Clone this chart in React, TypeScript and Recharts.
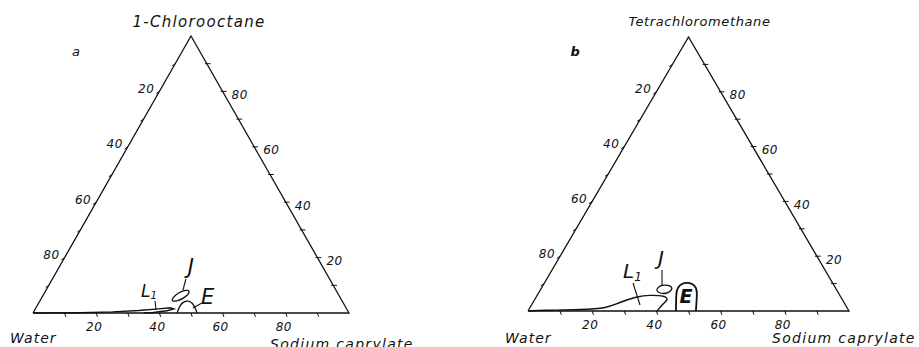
import React from "react";
import { ScatterChart, Scatter, XAxis, YAxis, ReferenceLine } from "recharts";

type Pt = [number, number]; // [sodium caprylate %, oil %]

const INK = "#111";
const FONT = "'DejaVu Sans', sans-serif";
const H = Math.sqrt(3) / 2;

const tickSteps = [10, 20, 30, 40, 50, 60, 70, 80, 90];
const tickLabels = [20, 40, 60, 80];

const namesA = ["Water", "Sodium caprylate", "1-Chlorooctane"];
const namesB = ["Water", "Sodium caprylate", "Tetrachloromethane"];

// (a) 1-chlorooctane phase boundaries
const l1A: Pt[] = [[0, 0], [15, 0.1], [25, 0.4], [33, 0.9], [39, 1.5], [42.5, 1.9], [43.8, 1.5], [42, 0.8], [38, 0.2], [35, 0]];
const jA: Pt[] = [[41.8, 4.3], [43.5, 4.15], [45.5, 5.8], [45.9, 7.6], [44.9, 8.3], [43.4, 8.1], [41.7, 6.5], [41.5, 5.05]];
const eA: Pt[] = [[45.6, 0], [45.25, 2.5], [45.8, 4.0], [46.9, 4.3], [48.5, 3.6], [50.4, 1.8], [51.9, 0]];

// (b) tetrachloromethane phase boundaries
const l1B: Pt[] = [[0, 0], [5.8, 0.25], [15.9, 0.55], [23.3, 1.3], [27.1, 3.1], [31.4, 5.1], [35.1, 5.7], [39.4, 5.4], [41.2, 4.2], [40.8, 2.55], [40.2, 0]];
const jB: Pt[] = [[35.95, 7.85], [37.1, 6.75], [39.3, 6.2], [40.5, 6.75], [41.1, 8.2], [39.55, 9.3], [37.9, 9.56], [36.45, 9.3]];
const eB: Pt[] = [[46.1, 0], [43.3, 5.8], [42.5, 8.4], [43.05, 9.85], [44.35, 10.3], [46.2, 9.85], [48.1, 8.4], [49.7, 5.8], [52.3, 0]];

const toXY = ([c, o]: Pt) => ({ x: c + o / 2, y: o * H });
const Empty = () => <g />;

const TextShape = (p: any) => {
  const d = p.payload;
  if (p.cx == null) return <g />;
  return (
    <g>
      {d.lead && (
        <line x1={p.cx + d.lead[0]} y1={p.cy + d.lead[1]} x2={p.cx + d.lead[2]} y2={p.cy + d.lead[3]}
          stroke={INK} strokeWidth={1.1} />
      )}
      <text x={p.cx + d.dx} y={p.cy + d.dy} textAnchor={d.anchor} dominantBaseline="middle"
        fontSize={d.size} fontFamily={FONT} fontStyle="italic" fontWeight={d.bold ? 700 : 400}
        letterSpacing={d.ls || 0} fill={INK}>
        {d.text}
        {d.sub && <tspan fontSize={d.size * 0.6} dy={4}>{d.sub}</tspan>}
      </text>
    </g>
  );
};

function Ternary({ left, w, h, margin, names, letter, phases, marks, off }: any) {
  const outline = ([[0, 0], [100, 0], [0, 100], [0, 0]] as Pt[]).map(toXY);
  const rows = [
    ...tickLabels.map((v) => ({ ...toXY([v, 0]), text: String(v), dx: -2, dy: 14, anchor: "middle", size: 12, ls: 0.5 })),
    ...tickLabels.map((v) => ({ ...toXY([0, 100 - v]), text: String(v), dx: -5, dy: -2, anchor: "end", size: 12, ls: 0.5 })),
    ...tickLabels.map((v) => ({ ...toXY([100 - v, v]), text: String(v), dx: 9, dy: 4, anchor: "start", size: 12, ls: 0.5 })),
    { ...toXY([0, 0]), text: names[0], ...off.left },
    { ...toXY([100, 0]), text: names[1], ...off.right },
    { ...toXY([0, 100]), text: names[2], ...off.top },
    { ...toXY([0, 100]), text: letter, ...off.letter },
    ...marks.map((m: any) => ({ ...toXY(m.at), ...m })),
  ];
  const seg = (a: Pt, dx: number, dy: number, ex = 0, ey = 0) => {
    const p = toXY(a);
    return [{ x: p.x + ex, y: p.y + ey }, { x: p.x + dx, y: p.y + dy }];
  };
  return (
    <div style={{ position: "absolute", left, top: 0 }}>
      <ScatterChart width={w} height={h} margin={margin}>
        <XAxis type="number" dataKey="x" domain={[0, 100]} hide />
        <YAxis type="number" dataKey="y" domain={[0, 100 * H]} hide />
        {tickSteps.map((t) => (
          <ReferenceLine key={"b" + t} segment={seg([t, 0], 0.4, -1.2)} stroke={INK} strokeWidth={1} ifOverflow="visible" />
        ))}
        {tickSteps.map((t) => (
          <ReferenceLine key={"l" + t} segment={seg([0, t], -1.0, -0.7)} stroke={INK} strokeWidth={1} ifOverflow="visible" />
        ))}
        {tickSteps.map((t) => (
          <ReferenceLine key={"r" + t} segment={seg([100 - t, t], 1.2, 0, -0.6, 0)} stroke={INK} strokeWidth={1} ifOverflow="visible" />
        ))}
        <Scatter data={outline} line={{ stroke: INK, strokeWidth: 1.3 }} lineType="joint" shape={Empty} isAnimationActive={false} />
        {phases.map((ph: any, i: number) => (
          <Scatter key={i} data={ph.pts.map(toXY)} line={{ stroke: INK, strokeWidth: ph.sw || 1.3, fill: "none" }}
            lineType="joint" lineJointType={ph.curve} shape={Empty} isAnimationActive={false} />
        ))}
        <Scatter data={rows} shape={TextShape} isAnimationActive={false} />
      </ScatterChart>
    </div>
  );
}

export default function App() {
  return (
    <div style={{ position: "absolute", left: 0, top: 0, width: 919, height: 347, background: "#fff", overflow: "hidden" }}>
      <Ternary
        left={0} w={460} h={347} margin={{ top: 36, bottom: 34, left: 33, right: 111 }}
        names={namesA} letter="a"
        phases={[
          { pts: l1A, curve: "linear", sw: 1.4 },
          { pts: jA, curve: "basisClosed" },
          { pts: eA, curve: "natural" },
        ]}
        marks={[
          { at: [38.4, 1.08], text: "L", sub: "1", lead: [0, 0, -1, -9], dx: 1, dy: -18, anchor: "end", size: 17 },
          { at: [43.3, 8.3], text: "J", lead: [0, 0, 3, -11], dx: 8, dy: -22, anchor: "middle", size: 21 },
          { at: [49.7, 1.8], text: "E", lead: [0, 0, 9, -5], dx: 8, dy: -10, anchor: "start", size: 21 },
        ]}
        off={{
          left: { dx: -23, dy: 26, anchor: "start", size: 14, ls: 1 },
          right: { dx: -79, dy: 32, anchor: "start", size: 14, ls: 1.3 },
          top: { dx: 8, dy: -14, anchor: "middle", size: 15, ls: 1.3 },
          letter: { dx: -119, dy: 16, anchor: "start", size: 13 },
        }}
      />
      <Ternary
        left={460} w={459} h={347} margin={{ top: 37, bottom: 36, left: 68, right: 70 }}
        names={namesB} letter="b"
        phases={[
          { pts: l1B, curve: "natural", sw: 1.4 },
          { pts: jB, curve: "basisClosed" },
          { pts: eB, curve: "natural", sw: 1.8 },
        ]}
        marks={[
          { at: [33.8, 2.19], text: "L", sub: "1", lead: [0, 0, -7, -22], dx: -17, dy: -32, anchor: "start", size: 20 },
          { at: [37.0, 9.49], text: "J", lead: [0, 0, 0, -15], dx: -1, dy: -25, anchor: "middle", size: 20 },
          { at: [48.1, 2.19], text: "E", dx: 0, dy: -7, anchor: "middle", size: 19, bold: true },
        ]}
        off={{
          left: { dx: -23, dy: 28, anchor: "start", size: 14, ls: 1 },
          right: { dx: -77, dy: 28, anchor: "start", size: 14, ls: 1.3 },
          top: { dx: 11, dy: -15, anchor: "middle", size: 13, ls: 0.6 },
          letter: { dx: -118, dy: 15, anchor: "start", size: 13, bold: true },
        }}
      />
    </div>
  );
}
